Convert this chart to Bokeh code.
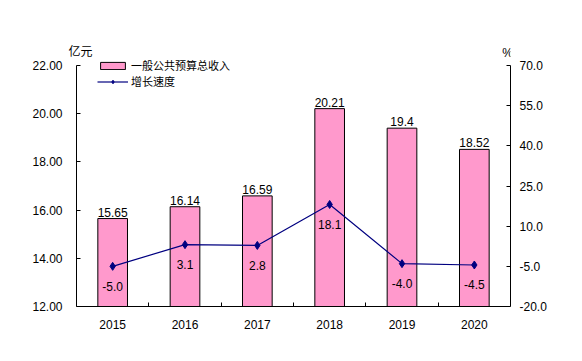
from bokeh.plotting import figure
from bokeh.models import (Range1d, LinearAxis, FixedTicker, Label, Legend, LegendItem,
                          ColumnDataSource, NumeralTickFormatter)
from bokeh.core.properties import value
from bokeh.embed import file_html
from bokeh.resources import INLINE

years = ["2015", "2016", "2017", "2018", "2019", "2020"]
revenue = [15.65, 16.14, 16.59, 20.21, 19.4, 18.52]
growth = [-5.0, 3.1, 2.8, 18.1, -4.0, -4.5]
left_ticks = [12, 14, 16, 18, 20, 22]
right_ticks = [-20, -5, 10, 25, 40, 55, 70]

FONT = "Liberation Sans"
CJK = "Noto Sans CJK SC"

# page geometry (pixels)
AX_L, AX_R, AX_T, AX_B = 76, 510, 65, 306
FRAME_L, FRAME_B = 16, 345
n = len(years)
px_x = (AX_R - AX_L) / n
px_y = (AX_B - AX_T) / (left_ticks[-1] - left_ticks[0])
px_p = (AX_B - AX_T) / (right_ticks[-1] - right_ticks[0])

def dx(page_x):
    return (page_x - AX_L) / px_x

def dy(page_y):
    return left_ticks[0] + (AX_B - page_y) / px_y

def dp(page_y):
    return right_ticks[0] + (AX_B - page_y) / px_p

xs = [i + 0.5 for i in range(n)]
src = ColumnDataSource(dict(
    x=xs, rev=revenue, g=growth,
    rev_lbl=[str(v) for v in revenue],
    g_lbl=[f"{v:.1f}" for v in growth],
))

p = figure(width=582, height=361, output_backend="svg", toolbar_location=None,
           x_range=Range1d(dx(FRAME_L), n),
           y_range=Range1d(dy(FRAME_B), dy(0)),
           min_border_left=FRAME_L, min_border_right=582 - AX_R, min_border_top=0,
           min_border_bottom=361 - FRAME_B, y_axis_location=None)
p.outline_line_color = None
p.xgrid.visible = False
p.ygrid.visible = False
p.extra_y_ranges = {"pct": Range1d(dp(FRAME_B), dp(0))}

# left axis (drawn at x = 0 inside the widened frame)
la = LinearAxis(ticker=FixedTicker(ticks=left_ticks),
                formatter=NumeralTickFormatter(format="0.00"),
                bounds=(left_ticks[0], left_ticks[-1]), fixed_location=0)
la.major_tick_in = 4
la.major_tick_out = 0
la.minor_tick_line_color = None
la.major_label_standoff = 14
p.add_layout(la, "left")

# right axis
ra = LinearAxis(y_range_name="pct", ticker=FixedTicker(ticks=right_ticks),
                formatter=NumeralTickFormatter(format="0.0"),
                bounds=(right_ticks[0], right_ticks[-1]))
ra.major_tick_in = 4
ra.major_tick_out = 0
ra.minor_tick_line_color = None
ra.major_label_standoff = 9
p.add_layout(ra, "right")

# bottom axis (drawn at y = 12 inside the widened frame)
xa = p.xaxis[0]
xa.bounds = (0, n)
xa.fixed_location = left_ticks[0]
xa.ticker = FixedTicker(ticks=xs, minor_ticks=list(range(1, n)))
xa.major_label_overrides = {x: y for x, y in zip(xs, years)}
xa.major_tick_in = 0
xa.major_tick_out = 0
xa.minor_tick_in = 4
xa.minor_tick_out = 0
xa.major_label_standoff = 13

for ax in (la, ra, xa):
    ax.axis_line_color = "black"
    ax.major_tick_line_color = "black"
    ax.major_label_text_font = FONT
    ax.major_label_text_font_size = "12px"
    ax.major_label_text_color = "black"
xa.minor_tick_line_color = "black"

bars = p.vbar(x="x", top="rev", bottom=left_ticks[0], width=0.41, source=src,
              fill_color="#FF99CC", line_color="black", line_width=1)
line = p.line(x="x", y="g", source=src, y_range_name="pct", line_color="#000080", line_width=1.2)
pts = p.scatter(x="x", y="g", source=src, y_range_name="pct", marker="diamond", size=8,
                fill_color="#000080", line_color="#000080")

p.text(x="x", y="rev", text="rev_lbl", source=src, text_align="center",
       text_baseline="bottom", y_offset=-2, text_font=value(FONT),
       text_font_size="12px", text_color="black")
p.text(x="x", y="g", text="g_lbl", source=src, y_range_name="pct", text_align="center",
       text_baseline="middle", y_offset=20, text_font=value(FONT),
       text_font_size="12px", text_color="black")

p.add_layout(Label(x=dx(80), y=dy(50), text="亿元", text_align="center", text_baseline="middle",
                   text_font=CJK, text_font_size="12px", text_color="black"))
p.add_layout(Label(x=dx(507), y=dy(52), text="%", text_align="center", text_baseline="middle",
                   text_font=FONT, text_font_size="12px", text_color="black"))

legend = Legend(items=[LegendItem(label="一般公共预算总收入", renderers=[bars]),
                       LegendItem(label="增长速度", renderers=[line, pts])],
                location=(97 - FRAME_L, FRAME_B - 89), orientation="vertical")
legend.background_fill_alpha = 0
legend.border_line_color = None
legend.padding = 0
legend.margin = 0
legend.spacing = -2
legend.glyph_width = 31
legend.glyph_height = 9
legend.label_height = 12
legend.label_standoff = 3
legend.label_text_font = CJK
legend.label_text_font_size = "11px"
legend.label_text_color = "black"
p.add_layout(legend, "center")

open("out.html", "w").write(file_html(p, INLINE))
